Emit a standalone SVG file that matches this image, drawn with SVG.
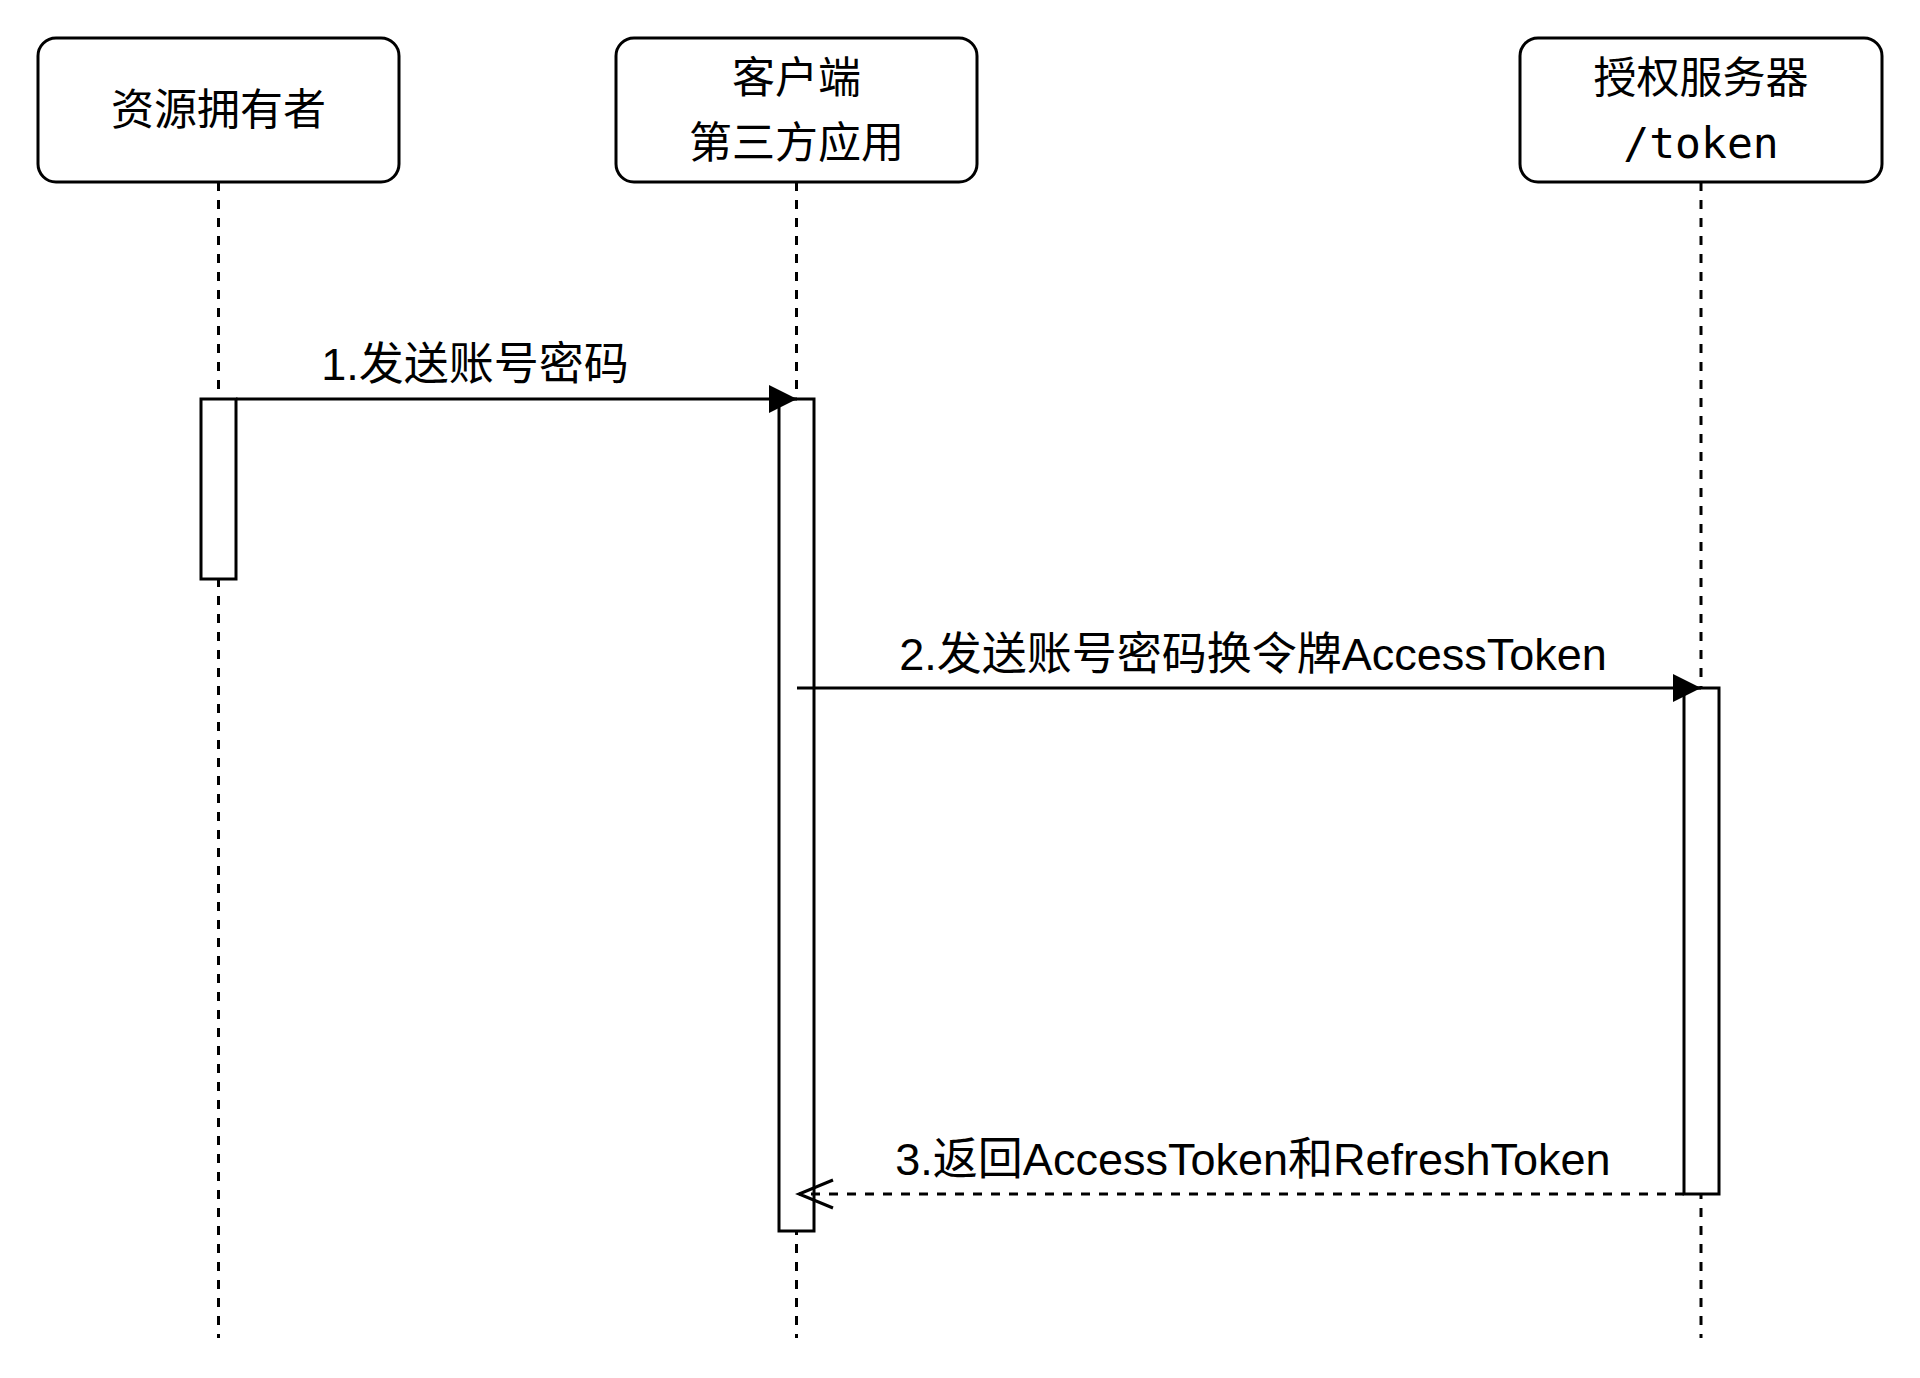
<svg xmlns="http://www.w3.org/2000/svg" width="1920" height="1378" viewBox="0 0 1920 1378">
<style>
.box{fill:#fff;stroke:#000;stroke-width:3}
.life{stroke:#000;stroke-width:3;stroke-dasharray:9 9;fill:none}
.act{fill:#fff;stroke:#000;stroke-width:3}
.msg{stroke:#000;stroke-width:3;fill:none}
.ret{stroke:#000;stroke-width:3;fill:none;stroke-dasharray:9 9}
.t{font-family:"Liberation Sans","Noto Sans CJK SC",sans-serif;font-size:43px;fill:#000;text-anchor:middle}
.lbl{font-family:"Liberation Sans","Noto Sans CJK SC",sans-serif;font-size:45px;fill:#000;text-anchor:middle}
.mono{font-family:"DejaVu Sans Mono","Liberation Mono",monospace;font-size:43px;fill:#000;text-anchor:middle}
</style>
<defs>
<marker id="fill" markerWidth="30" markerHeight="30" refX="28" refY="14" orient="auto" markerUnits="userSpaceOnUse">
<path d="M0,0 L28,14 L0,28 Z" fill="#000"/>
</marker>
<marker id="open" markerWidth="40" markerHeight="40" refX="36" refY="16" orient="auto" markerUnits="userSpaceOnUse">
<path d="M2,2 L36,16 L2,30" fill="none" stroke="#000" stroke-width="3"/>
</marker>
</defs>
<rect width="1920" height="1378" fill="#fff"/>
<g id="lifelines">
<line class="life" x1="218.5" y1="182" x2="218.5" y2="1338"/>
<line class="life" x1="796.5" y1="182" x2="796.5" y2="1338"/>
<line class="life" x1="1701" y1="182" x2="1701" y2="1338"/>
</g>
<g id="node-owner">
<rect class="box" x="38" y="38" width="361" height="144" rx="18"/>
<text class="t" x="218.5" y="125">资源拥有者</text>
</g>
<g id="node-client">
<rect class="box" x="616" y="38" width="361" height="144" rx="18"/>
<text class="t" x="796.5" y="93">客户端</text>
<text class="t" x="796.5" y="158">第三方应用</text>
</g>
<g id="node-auth">
<rect class="box" x="1520" y="38" width="362" height="144" rx="18"/>
<text class="t" x="1701" y="93">授权服务器</text>
<text class="mono" x="1701" y="158">/token</text>
</g>
<g id="activations">
<rect class="act" x="201" y="399" width="35" height="180"/>
<rect class="act" x="779" y="399" width="35" height="832"/>
<rect class="act" x="1684" y="688" width="35" height="506"/>
</g>
<g id="connectors">
<line class="msg" x1="236" y1="399" x2="797" y2="399" marker-end="url(#fill)"/>
<text class="lbl" x="475" y="380">1.发送账号密码</text>
<line class="msg" x1="797" y1="688" x2="1701" y2="688" marker-end="url(#fill)"/>
<text class="lbl" x="1253" y="670">2.发送账号密码换令牌AccessToken</text>
<line class="ret" x1="1684" y1="1194" x2="799" y2="1194" marker-end="url(#open)"/>
<text class="lbl" x="1253" y="1175">3.返回AccessToken和RefreshToken</text>
</g>
</svg>
